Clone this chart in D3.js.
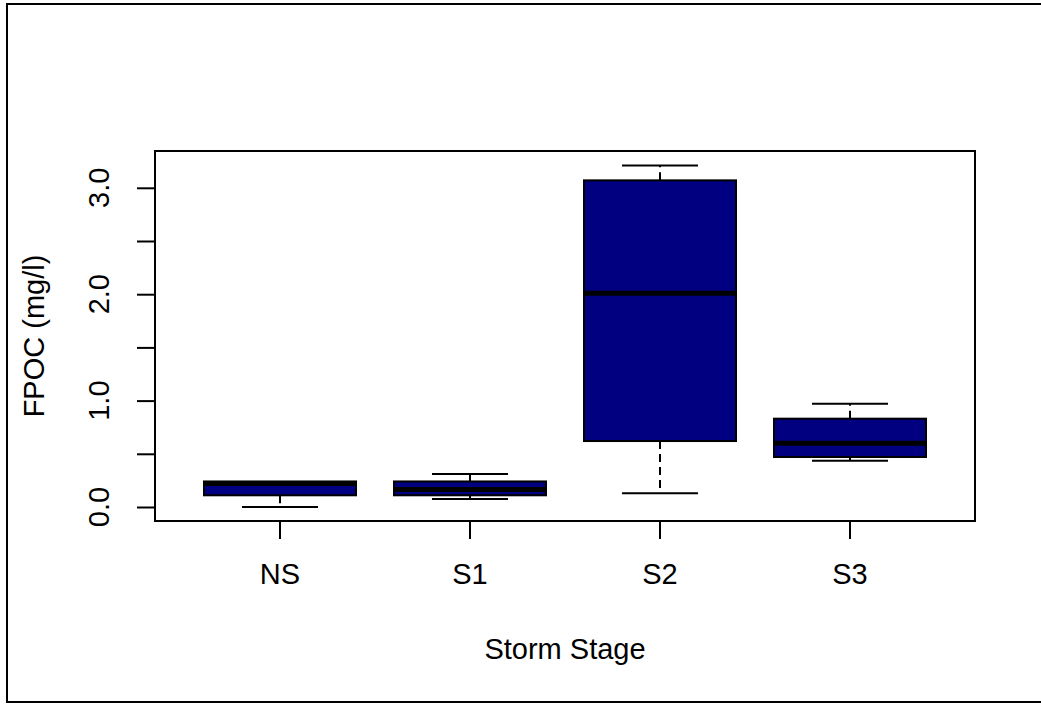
<!DOCTYPE html>
<html>
<head>
<meta charset="utf-8">
<script src="https://cdn.jsdelivr.net/npm/d3@7"></script>
<style>
  html, body { margin: 0; padding: 0; background: #fff; }
  svg { display: block; font-family: "Liberation Sans", Arial, sans-serif; }
</style>
</head>
<body>
<svg id="chart" width="1041" height="704"></svg>
<script>
// Storm stages and their five-number summaries of FPOC (mg/l)
const stages = ["NS", "S1", "S2", "S3"];
const lowerWhisker = [0.00, 0.075, 0.13, 0.435];
const lowerQuartile = [0.11, 0.11, 0.62, 0.47];
const medians = [0.22, 0.165, 2.01, 0.60];
const upperQuartile = [0.24, 0.24, 3.07, 0.83];
const upperWhisker = [0.24, 0.31, 3.21, 0.97];
const yTicks = [0, 0.5, 1, 1.5, 2, 2.5, 3];
const yTickLabels = ["0.0", "1.0", "2.0", "3.0"];

const svg = d3.select("#chart");
const plot = { left: 155, right: 975, top: 151, bottom: 521 };
const fontSize = 29;

// outer figure frame
svg.append("rect")
  .attr("x", 7).attr("y", 4).attr("width", 1040).attr("height", 698)
  .attr("fill", "none").attr("stroke", "#000").attr("stroke-width", 2);

const x = d3.scaleBand()
  .domain(stages)
  .range([185, 945])
  .paddingInner(0.2).paddingOuter(0.1);

const y = d3.scaleLinear().domain([0, 3]).range([507, 187.8]);

const fill = "#000080";
const bw = x.bandwidth();

const boxes = stages.map((s, i) => ({
  s, lo: lowerWhisker[i], q1: lowerQuartile[i], med: medians[i],
  q3: upperQuartile[i], hi: upperWhisker[i]
}));

const g = svg.append("g");

boxes.forEach(d => {
  const cx = x(d.s) + bw / 2;
  // whiskers (dashed) with end caps
  if (d.hi > d.q3) {
    g.append("line").attr("x1", cx).attr("x2", cx)
      .attr("y1", y(d.q3)).attr("y2", y(d.hi))
      .attr("stroke", "#000").attr("stroke-width", 2).attr("stroke-dasharray", "8,5");
    g.append("line").attr("x1", cx - bw / 4).attr("x2", cx + bw / 4)
      .attr("y1", y(d.hi)).attr("y2", y(d.hi))
      .attr("stroke", "#000").attr("stroke-width", 2);
  }
  if (d.lo < d.q1) {
    g.append("line").attr("x1", cx).attr("x2", cx)
      .attr("y1", y(d.q1)).attr("y2", y(d.lo))
      .attr("stroke", "#000").attr("stroke-width", 2).attr("stroke-dasharray", "8,5");
    g.append("line").attr("x1", cx - bw / 4).attr("x2", cx + bw / 4)
      .attr("y1", y(d.lo)).attr("y2", y(d.lo))
      .attr("stroke", "#000").attr("stroke-width", 2);
  }
  // interquartile box
  g.append("rect")
    .attr("x", x(d.s)).attr("width", bw)
    .attr("y", y(d.q3)).attr("height", y(d.q1) - y(d.q3))
    .attr("fill", fill).attr("stroke", "#000").attr("stroke-width", 2);
  // median
  g.append("line").attr("x1", x(d.s)).attr("x2", x(d.s) + bw)
    .attr("y1", y(d.med)).attr("y2", y(d.med))
    .attr("stroke", "#000").attr("stroke-width", 5);
});

// plot frame
svg.append("rect")
  .attr("x", plot.left).attr("y", plot.top)
  .attr("width", plot.right - plot.left).attr("height", plot.bottom - plot.top)
  .attr("fill", "none").attr("stroke", "#000").attr("stroke-width", 2);

// y axis
const yAxis = svg.append("g").attr("transform", `translate(${plot.left},0)`)
  .call(d3.axisLeft(y).tickValues(yTicks).tickSize(18).tickFormat(""));
yAxis.select(".domain").remove();
yAxis.selectAll(".tick line").attr("stroke-width", 2);

yTickLabels.forEach(t => {
  const v = +t;
  svg.append("text")
    .attr("transform", `translate(109,${y(v)}) rotate(-90)`)
    .attr("text-anchor", "middle")
    .attr("font-size", fontSize)
    .text(t);
});

// x axis
const xAxis = svg.append("g").attr("transform", `translate(0,${plot.bottom})`)
  .call(d3.axisBottom(x).tickSize(18).tickPadding(24));
xAxis.select(".domain").remove();
xAxis.selectAll(".tick line").attr("stroke-width", 2);
xAxis.selectAll(".tick text")
  .attr("font-size", fontSize).attr("fill", "#000")
  .attr("font-family", "Liberation Sans, Arial, sans-serif");

// axis titles
svg.append("text")
  .attr("x", (plot.left + plot.right) / 2).attr("y", 659)
  .attr("text-anchor", "middle").attr("font-size", fontSize)
  .text("Storm Stage");

svg.append("text")
  .attr("transform", `translate(44,${(plot.top + plot.bottom) / 2}) rotate(-90)`)
  .attr("text-anchor", "middle").attr("font-size", fontSize)
  .text("FPOC (mg/l)");
</script>
</body>
</html>
